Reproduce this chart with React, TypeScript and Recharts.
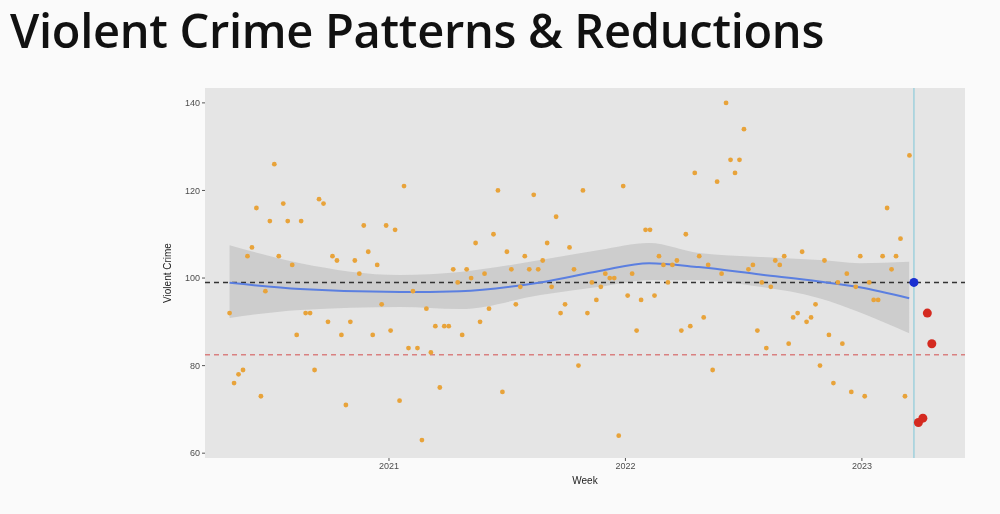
import React from "react";
import { ComposedChart, Scatter, Line, Area, XAxis, YAxis, CartesianGrid, ReferenceLine } from "recharts";

const START_YEAR = 2020.326;
const CUTOFF_YEAR = 2023.22;

const weeklyCrime = [92,76,78,79,105,107,116,73,97,113,126,105,117,113,103,87,113,92,92,79,118,117,90,105,104,87,71,90,104,101,112,106,87,103,94,112,88,111,72,121,84,97,84,63,93,83,89,75,89,89,102,99,87,102,100,108,90,101,93,110,120,74,106,102,94,98,105,102,119,102,104,108,98,114,92,94,107,102,80,120,92,99,95,98,101,100,100,64,121,96,101,88,95,111,111,96,105,103,99,103,104,88,110,89,124,105,91,103,79,122,101,140,127,124,127,134,102,103,88,99,84,98,104,103,105,85,91,92,106,90,91,94,80,104,87,76,99,85,101,74,98,105,73,99,95,95,105,116,102,105,109,73,128];
const currentWeek = [99];
const reductionWeeks = [67, 68, 92, 85];

const smoothX = [2020.326,2020.625,2021.047,2021.3,2021.64,2021.89,2022.1,2022.31,2022.57,2022.82,2022.99,2023.2];
const smoothFit = [98.9,97.5,96.8,97.0,99.0,101.6,103.4,102.5,100.8,99.2,97.9,95.4];
const bandLow = [90.9,92.7,93.4,92.9,96.1,98.0,99.5,99.5,98.0,95.4,92.2,87.4];
const bandHigh = [107.5,103.4,100.7,101.4,104.1,106.4,108.0,105.7,104.8,104.1,103.4,103.7];

const xTicks = [2021, 2022, 2023];
const yTicks = [60, 80, 100, 120, 140];
const BASELINE = 99;
const TARGET = 82.5;

const n0 = weeklyCrime.length;
const step = (CUTOFF_YEAR - START_YEAR) / n0;
const orange = weeklyCrime.map((v, i) => ({ x: START_YEAR + i * step, y: v }));
const blue = currentWeek.map((v, i) => ({ x: START_YEAR + (n0 + i) * step, y: v }));
const red = reductionWeeks.map((v, i) => ({ x: START_YEAR + (n0 + 1 + i) * step, y: v }));
const smooth = smoothX.map((x, i) => ({ x, fit: smoothFit[i], band: [bandLow[i], bandHigh[i]] }));
const cutoff = blue[0].x;

const tickStyle = { fontSize: 9, fill: "#4d4d4d", fontFamily: "Liberation Sans, Arial" };

export default function App() {
  return (
    <div style={{ position: "fixed", left: 0, top: 0, width: 1000, height: 514, background: "#fafafa", fontFamily: "Open Sans" }}>
      <div style={{ position: "absolute", left: 10, top: 0, fontSize: 47, lineHeight: "60px", fontWeight: 600, color: "#111", letterSpacing: -0.3, whiteSpace: "nowrap" }}>
        Violent Crime Patterns &amp; Reductions
      </div>
      <div style={{ position: "absolute", left: 0, top: 0 }}>
        <ComposedChart width={1000} height={514} margin={{ top: 88, right: 35, bottom: 26, left: 175 }}>
          <rect x={205} y={88} width={760} height={370} fill="#e5e5e5" />
          <CartesianGrid stroke="#f2f2f2" strokeWidth={1} verticalValues={xTicks} horizontalValues={yTicks} />
          <XAxis type="number" dataKey="x" domain={[2020.222, 2023.436]} ticks={xTicks} allowDataOverflow
            tick={tickStyle} tickLine={{ stroke: "#555" }} axisLine={false} tickSize={3}
            label={{ value: "Week", position: "insideBottom", offset: 4, style: { fontSize: 10, fill: "#222", fontFamily: "Liberation Sans, Arial" } }} />
          <YAxis type="number" dataKey="y" domain={[58.9, 143.4]} ticks={yTicks} allowDataOverflow width={30}
            tick={tickStyle} tickLine={{ stroke: "#555" }} axisLine={false} tickSize={3}
            label={{ value: "Violent Crime", angle: -90, position: "insideLeft", offset: -8, style: { fontSize: 10, fill: "#222", fontFamily: "Liberation Sans, Arial", textAnchor: "middle" } }} />
          <ReferenceLine x={cutoff} stroke="#9fd0dc" strokeWidth={1.5} />
          <Area data={smooth} dataKey="band" type="monotone" fill="#bdbdbd" fillOpacity={0.6} stroke="none" isAnimationActive={false} />
          <ReferenceLine y={BASELINE} stroke="#333" strokeDasharray="5 4" strokeWidth={1.5} />
          <ReferenceLine y={TARGET} stroke="#d98080" strokeDasharray="5 4" strokeWidth={1.5} />
          <Line data={smooth} dataKey="fit" type="monotone" stroke="#5b7fe0" strokeWidth={2} dot={false} isAnimationActive={false} />
          <Scatter data={orange} dataKey="y" fill="#e8a33a" shape={(p: any) => <circle cx={p.cx} cy={p.cy} r={2.4} fill="#e8a33a" />} isAnimationActive={false} />
          <Scatter data={blue} dataKey="y" shape={(p: any) => <circle cx={p.cx} cy={p.cy} r={4.5} fill="#1a2fd0" />} isAnimationActive={false} />
          <Scatter data={red} dataKey="y" shape={(p: any) => <circle cx={p.cx} cy={p.cy} r={4.5} fill="#d42a20" />} isAnimationActive={false} />
        </ComposedChart>
      </div>
    </div>
  );
}
